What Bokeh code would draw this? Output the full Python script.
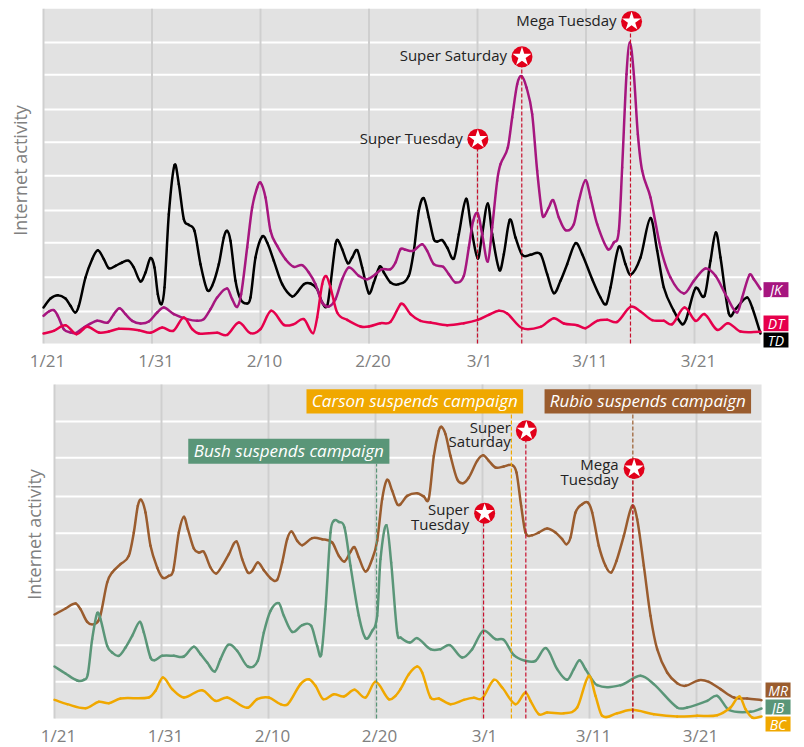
import math
import numpy as np
from bokeh.embed import file_html
from bokeh.resources import INLINE
from bokeh.layouts import column
from bokeh.core.properties import value
from bokeh.models import Range1d
from bokeh.plotting import figure

# ---- data (t = time in reading units, v = internet activity index) ----
DATE_DAYS = [0, 10, 20, 30, 40, 50, 60]
DATE_LABELS = ["1/21", "1/31", "2/10", "2/20", "3/1", "3/11", "3/21"]
DATE_LABEL_NUDGE = [4, 4, 4, 4, 2, 4, 4]
LAST_DAY = 66.08
TOP_UNITS_PER_DAY = 32.55
BOTTOM_UNITS_PER_DAY = 32.1

td_t = [0,21,43,66,81,95,106,126,146,163,181,196,216,236,256,271,291,306,321,333,343,354,363,376,393,406,421,436,453,471,491,506,526,541,551,561,576,591,611,621,636,656,671,691,716,746,761,781,801,821,836,851,861,876,883,896,913,926,941,956,976,991,1009,1021,1041,1066,1096,1111,1126,1141,1156,1171,1181,1196,1211,1231,1246,1268,1283,1303,1316,1333,1346,1368,1381,1399,1416,1436,1461,1491,1511,1531,1551,1571,1596,1616,1646,1671,1688,1701,1726,1746,1761,1791,1821,1841,1861,1891,1916,1928,1956,1983,2001,2017,2031,2056,2076,2111,2126,2151]
td_v = [108,135,145,135,113,93,113,198,253,280,253,226,233,243,248,228,186,213,256,228,148,118,168,388,535,478,373,356,338,238,161,173,238,318,338,308,188,133,120,138,258,321,303,248,178,141,153,178,180,163,123,113,178,298,310,283,241,258,280,228,151,183,231,213,183,178,203,278,398,436,378,313,306,310,288,255,328,434,348,255,328,420,328,220,268,371,318,266,266,268,208,151,188,238,301,268,193,138,118,168,290,238,206,258,376,278,168,98,58,73,166,143,248,333,258,90,103,138,108,30]

jk_t = [0,16,31,43,61,81,96,121,161,193,211,228,246,266,291,316,341,361,391,431,461,481,501,521,551,566,581,593,611,626,641,651,666,681,701,726,751,776,796,816,836,856,876,896,916,946,971,996,1016,1041,1056,1071,1086,1109,1136,1151,1171,1199,1216,1236,1261,1276,1289,1303,1316,1333,1346,1361,1371,1393,1406,1421,1434,1449,1466,1481,1496,1503,1516,1529,1546,1566,1591,1606,1626,1641,1661,1693,1711,1726,1736,1749,1759,1771,1783,1796,1821,1851,1881,1921,1951,1986,2016,2051,2081,2096,2118,2131,2151]
jk_v = [83,96,100,83,43,33,31,48,68,63,88,106,88,68,60,66,93,108,88,73,68,73,103,138,165,133,110,148,288,408,468,483,438,338,293,253,230,235,213,178,123,111,133,193,228,203,193,208,223,223,243,283,281,278,298,278,238,230,208,183,203,288,368,390,328,246,348,488,538,588,678,778,802,768,688,518,388,383,408,430,378,340,358,428,490,438,358,283,303,338,528,808,903,808,628,518,438,288,198,150,188,225,203,138,93,138,206,193,163]

dt_t = [0,31,66,99,131,166,196,226,286,321,356,389,421,446,466,521,551,586,621,651,683,721,751,781,809,821,836,848,861,881,911,951,976,1011,1041,1071,1081,1101,1131,1161,1211,1261,1303,1336,1366,1391,1436,1491,1531,1561,1601,1626,1661,1691,1721,1761,1791,1826,1861,1886,1923,1956,1983,2021,2053,2091,2151]
dt_v = [30,38,55,28,50,33,36,44,40,32,48,38,78,43,30,32,26,63,31,43,98,56,58,73,31,78,178,202,168,93,71,51,51,61,65,118,116,88,68,63,55,61,71,86,98,90,46,50,76,60,55,46,68,71,65,110,96,70,68,58,108,68,88,41,61,36,35]

mr_t = [0,33,63,78,98,118,136,158,173,198,223,238,250,260,273,288,308,325,343,356,373,388,400,418,433,448,468,485,503,523,546,563,580,593,610,628,648,668,683,698,711,728,743,773,803,833,853,870,888,900,913,933,953,968,983,998,1013,1028,1038,1058,1088,1108,1123,1138,1153,1161,1173,1188,1208,1225,1243,1268,1286,1303,1323,1348,1373,1386,1400,1413,1433,1453,1478,1503,1523,1536,1548,1563,1583,1600,1613,1633,1653,1670,1686,1708,1733,1748,1768,1788,1808,1838,1868,1893,1933,1963,1998,2038,2078,2121]
mr_v = [312,330,345,328,290,283,303,408,438,463,488,558,638,656,618,518,453,422,428,443,558,605,568,510,498,500,453,435,458,493,531,478,438,443,468,445,421,416,468,538,561,533,520,541,538,528,488,471,500,514,483,441,478,533,658,716,683,643,643,668,676,666,660,788,863,875,853,788,718,706,723,773,790,773,753,756,760,738,638,558,550,558,570,558,538,523,543,618,643,648,618,518,458,438,473,548,638,598,458,308,208,138,106,98,115,110,88,63,60,55]

jb_t = [0,33,68,88,100,113,128,138,158,173,193,213,233,256,268,288,300,323,358,388,418,438,458,481,498,521,548,580,610,628,648,673,688,713,743,770,788,800,813,828,838,853,870,888,913,933,953,968,978,996,1010,1028,1038,1066,1088,1128,1158,1186,1223,1253,1286,1323,1348,1378,1413,1443,1475,1508,1538,1558,1575,1593,1628,1698,1758,1798,1868,1898,1958,1988,2023,2088,2121]
jb_v = [156,135,114,116,133,238,316,298,218,198,188,213,248,290,258,183,175,188,188,186,215,193,168,141,178,221,203,156,173,258,323,346,308,260,280,278,218,191,328,558,593,590,573,458,308,241,263,308,478,580,468,258,243,228,241,208,208,220,183,208,263,238,236,190,173,173,211,148,116,148,175,148,100,100,128,103,33,33,53,68,26,20,30]

bc_t = [0,38,93,133,163,198,283,303,325,353,388,443,483,518,578,608,643,678,700,738,763,783,806,838,868,900,933,963,1003,1023,1038,1063,1088,1103,1128,1153,1188,1228,1258,1283,1318,1343,1383,1413,1428,1453,1478,1528,1568,1603,1623,1643,1688,1733,1798,1868,1928,1988,2028,2055,2073,2093,2121]
bc_v = [56,43,31,50,46,60,63,83,123,88,63,85,53,63,32,58,63,43,43,103,118,98,58,73,66,86,63,110,58,68,88,133,156,138,63,60,43,56,62,60,116,93,43,78,53,13,18,16,33,128,68,8,16,26,13,6,8,10,33,66,28,3,6]

top_grid_levels = [96, 199, 302, 399, 503, 604, 702, 806, 903]
bottom_grid_levels = [110, 220, 336, 446, 556, 666, 782, 891]

top_events = ["Super Tuesday", "Super Saturday", "Mega Tuesday"]
top_event_days = [40.0, 44.08, 54.1]
top_star_days = [40.03, 44.1, 54.2]
top_star_levels = [613, 860, 966]

bottom_event_days = [40.1, 44.05, 54.05]
bottom_star_days = [40.2, 44.1, 54.17]
bottom_star_levels = [616, 863, 750]
bottom_event_rows = ["Super", "Tuesday", "Super", "Saturday", "Mega", "Tuesday"]
bottom_event_row_days = [40.2, 40.2, 44.1, 44.1, 54.17, 54.17]
bottom_event_row_levels = [625, 581, 871, 830, 760, 715]

suspensions = ["Bush suspends campaign", "Carson suspends campaign", "Rubio suspends campaign"]
suspension_days = [30.1, 42.7, 54.05]
suspension_left = [12.5, 23.55, 45.8]
suspension_right = [31.3, 43.8, 65.1]
suspension_low = [764, 915, 915]
suspension_high = [839, 988, 988]

top_tags = ["JK", "DT", "TD"]
top_tag_low = [139, 37, -12]
top_tag_high = [184, 84, 33]
bottom_tags = ["MR", "JB", "BC"]
bottom_tag_low = [63, 12, -39]
bottom_tag_high = [108, 57, 6]

# ---- styles ----
FONT = "Open Sans"
BLACK, PURPLE, CRIMSON = "#000000", "#a6167f", "#e6004c"
BROWN, GREEN, ORANGE = "#9a5c2e", "#5a9678", "#f0a800"
RED = "#c8102e"


def smooth_line(p, t, v, per_day, color):
    x = np.array(t, dtype=float) / per_day
    y = np.array(v, dtype=float)
    m = np.zeros_like(x)
    m[1:-1] = (y[2:] - y[:-2]) / (x[2:] - x[:-2])
    m[0] = (y[1] - y[0]) / (x[1] - x[0])
    m[-1] = (y[-1] - y[-2]) / (x[-1] - x[-2])
    d = np.diff(x) / 3
    p.bezier(x[:-1], y[:-1], x[1:], y[1:],
             x[:-1] + d, y[:-1] + m[:-1] * d,
             x[1:] - d, y[1:] - m[1:] * d,
             line_color=color, line_width=2.5, line_cap="round")


def base(height, x0, x1, y0, y1, ytop, levels, label_level):
    p = figure(width=800, height=height, x_range=Range1d(x0, x1), y_range=Range1d(y0, y1),
               x_axis_location=None, y_axis_location=None, toolbar_location=None,
               output_backend="svg", background_fill_color="#ffffff", border_fill_color="#ffffff",
               min_border=0, frame_align=False)
    p.outline_line_color = None
    p.grid.visible = False
    p.quad(left=[0], right=[LAST_DAY], bottom=[0], top=[ytop], fill_color="#e2e2e2", line_color=None)
    p.segment([0] * len(levels), levels, [LAST_DAY] * len(levels), levels,
              line_color="#ffffff", line_width=2)
    p.segment(DATE_DAYS, [0] * 7, DATE_DAYS, [ytop] * 7, line_color="#cfcfcf", line_width=2)
    p.text(DATE_DAYS, [label_level] * 7, text=DATE_LABELS, x_offset=DATE_LABEL_NUDGE,
           text_align="center", text_baseline="middle", text_font=value(FONT),
           text_font_size="17px", text_color="#808080")
    return p


def stars(p, days, levels):
    p.scatter(days, levels, marker="circle", size=21, fill_color="#e2001a", line_color=None)
    p.scatter(days, levels, marker="star", size=20, fill_color="#ffffff", line_color=None)


def dashed(p, days, highs, color):
    p.segment(days, [0] * len(days), days, highs, line_color=color, line_width=1.2, line_dash="4 2")


def tags(p, texts, x0, x1, low, high, colors):
    p.quad(left=[x0] * 3, right=[x1] * 3, bottom=low, top=high, fill_color=colors, line_color=None)
    p.text([(x0 + x1) / 2] * 3, [(a + b) / 2 for a, b in zip(low, high)], text=texts,
           text_align="center", text_baseline="middle", text_color="#ffffff",
           text_font=value(FONT), text_font_style="italic", text_font_size="14px")


def ylabel(p, x, y):
    p.text([x], [y], text=["Internet activity"], angle=math.pi / 2, text_align="center",
           text_baseline="middle", text_font=value(FONT), text_font_size="18px", text_color="#808080")


# ---- top panel ----
p1 = base(375, -43 / 10.85, 757 / 10.85, -96, 1029, 1004, top_grid_levels, -51)
smooth_line(p1, td_t, td_v, TOP_UNITS_PER_DAY, BLACK)
smooth_line(p1, jk_t, jk_v, TOP_UNITS_PER_DAY, PURPLE)
smooth_line(p1, dt_t, dt_v, TOP_UNITS_PER_DAY, CRIMSON)
dashed(p1, top_event_days, top_star_levels, RED)
stars(p1, top_star_days, top_star_levels)
p1.text(top_star_days, top_star_levels, text=top_events, x_offset=-15, y_offset=-1.5, text_align="right",
        text_baseline="middle", text_font=value(FONT), text_font_size="15px", text_color="#222222")
ylabel(p1, -2.12, 519)
tags(p1, top_tags, 66.36, 68.66, top_tag_low, top_tag_high, [PURPLE, CRIMSON, BLACK])

# ---- bottom panel ----
p2 = base(372, -54 / 10.7, 746 / 10.7, -87, 1029, 1002, bottom_grid_levels, -51)
smooth_line(p2, mr_t, mr_v, BOTTOM_UNITS_PER_DAY, BROWN)
smooth_line(p2, jb_t, jb_v, BOTTOM_UNITS_PER_DAY, GREEN)
smooth_line(p2, bc_t, bc_v, BOTTOM_UNITS_PER_DAY, ORANGE)
for d, high, c in zip(suspension_days, suspension_low, [GREEN, ORANGE, BROWN]):
    dashed(p2, [d], [high], c)
dashed(p2, bottom_event_days, bottom_star_levels, RED)
p2.quad(left=suspension_left, right=suspension_right, bottom=suspension_low, top=suspension_high,
        fill_color=[GREEN, ORANGE, BROWN], line_color=None)
p2.text([(a + b) / 2 for a, b in zip(suspension_left, suspension_right)],
        [(a + b) / 2 for a, b in zip(suspension_low, suspension_high)],
        y_offset=-1,
        text=suspensions, text_align="center", text_baseline="middle", text_font=value(FONT),
        text_font_style="italic", text_font_size="17px", text_color="#ffffff")
stars(p2, bottom_star_days, bottom_star_levels)
p2.text(bottom_event_row_days, bottom_event_row_levels, text=bottom_event_rows, x_offset=-15.5, y_offset=-1,
        text_align="right", text_baseline="middle", text_font=value(FONT), text_font_size="15px",
        text_color="#222222")
ylabel(p2, -1.96, 552)
tags(p2, bottom_tags, 66.45, 68.79, bottom_tag_low, bottom_tag_high, [BROWN, GREEN, ORANGE])

page = column(p1, p2, spacing=0)
open("out.html", "w").write(file_html(page, INLINE))
